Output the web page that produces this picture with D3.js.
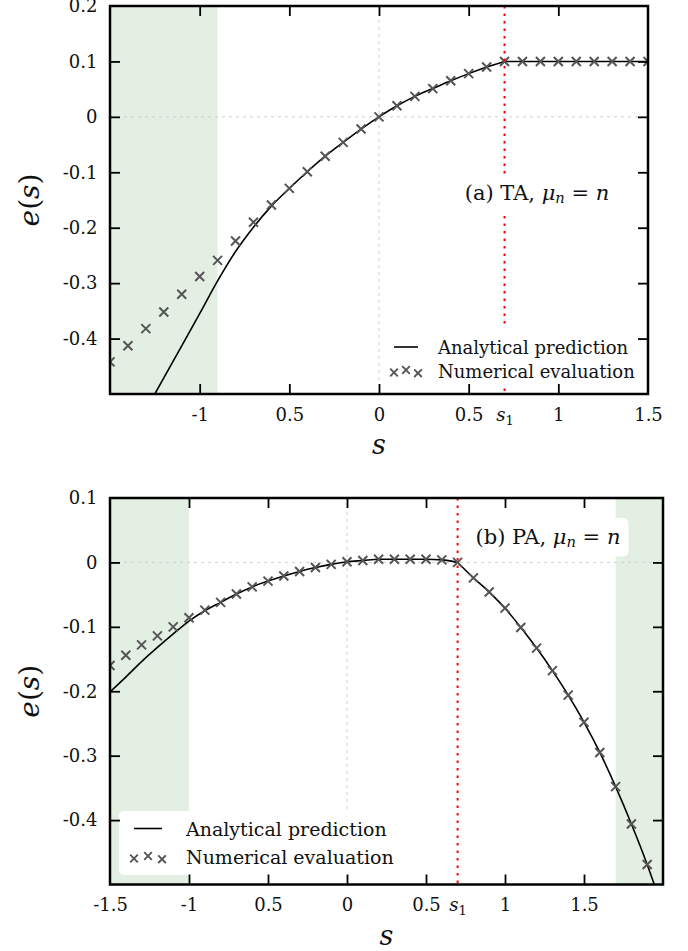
<!DOCTYPE html>
<html><head><meta charset="utf-8">
<script src="https://cdn.jsdelivr.net/npm/d3@7"></script>
<style>
body{margin:0;background:#fff}
svg{display:block}
text{font-family:"DejaVu Serif","Liberation Serif",serif;fill:#111}
</style>
</head><body>
<svg id="chart" width="688" height="951"></svg>
<script>
// ---------- data ----------
const s1 = 0.7;

// (a) TA
const topNumS = [-1.5,-1.4,-1.3,-1.2,-1.1,-1.0,-0.9,-0.8,-0.7,-0.6,-0.5,-0.4,-0.3,-0.2,-0.1,0,0.1,0.2,0.3,0.4,0.5,0.6,0.7,0.8,0.9,1.0,1.1,1.2,1.3,1.4,1.5];
const topNumE = [-0.442,-0.413,-0.382,-0.352,-0.320,-0.288,-0.259,-0.224,-0.190,-0.159,-0.129,-0.099,-0.071,-0.046,-0.022,0.000,0.020,0.037,0.051,0.065,0.078,0.090,0.100,0.100,0.100,0.100,0.100,0.100,0.100,0.100,0.100];
const topAnaS = [-1.25,-1.2,-1.1,-1.0,-0.9,-0.8,-0.7,-0.6,-0.5,-0.4,-0.3,-0.2,-0.1,0,0.1,0.2,0.3,0.4,0.5,0.6,0.7,1.5];
const topAnaE = [-0.500,-0.471,-0.413,-0.355,-0.296,-0.243,-0.199,-0.161,-0.129,-0.099,-0.071,-0.046,-0.022,0.000,0.020,0.037,0.051,0.065,0.078,0.090,0.100,0.100];

// (b) PA
const botNumS = [-1.5,-1.4,-1.3,-1.2,-1.1,-1.0,-0.9,-0.8,-0.7,-0.6,-0.5,-0.4,-0.3,-0.2,-0.1,0,0.1,0.2,0.3,0.4,0.5,0.6,0.7,0.8,0.9,1.0,1.1,1.2,1.3,1.4,1.5,1.6,1.7,1.8,1.9];
const botNumE = [-0.160,-0.144,-0.128,-0.114,-0.100,-0.086,-0.074,-0.062,-0.049,-0.038,-0.029,-0.021,-0.014,-0.008,-0.003,0.001,0.003,0.005,0.005,0.005,0.005,0.004,0.000,-0.024,-0.046,-0.071,-0.101,-0.133,-0.168,-0.206,-0.248,-0.295,-0.348,-0.406,-0.469];
const botAnaS = [-1.5,-1.4,-1.3,-1.2,-1.1,-1.0,-0.9,-0.8,-0.7,-0.6,-0.5,-0.4,-0.3,-0.2,-0.1,0,0.1,0.2,0.3,0.4,0.5,0.6,0.7,0.8,0.9,1.0,1.1,1.2,1.3,1.4,1.5,1.6,1.7,1.8,1.9,1.945];
const botAnaE = [-0.201,-0.178,-0.154,-0.132,-0.111,-0.091,-0.075,-0.062,-0.049,-0.038,-0.029,-0.021,-0.014,-0.008,-0.003,0.001,0.003,0.005,0.005,0.005,0.005,0.004,0.000,-0.024,-0.046,-0.071,-0.101,-0.133,-0.168,-0.206,-0.248,-0.295,-0.348,-0.406,-0.469,-0.500];

// ticks
const topXTicks = [-1,-0.5,0,0.5,0.7,1,1.5];
const topXLabels = ["-1","0.5","0","0.5","s1","1","1.5"];
const botXTicks = [-1.5,-1,-0.5,0,0.5,0.7,1,1.5];
const botXLabels = ["-1.5","-1","0.5","0","0.5","s1","1","1.5"];
const topYTicks = [0.2,0.1,0,-0.1,-0.2,-0.3,-0.4];
const topYLabels = ["0.2","0.1","0","-0.1","-0.2","-0.3","-0.4"];
const botYTicks = [0.1,0,-0.1,-0.2,-0.3,-0.4];
const botYLabels = ["0.1","0","-0.1","-0.2","-0.3","-0.4"];

const topShade = [[-1.5,-0.9]];
const botShade = [[-1.5,-1.0],[1.7,2.0]];
const legendLabels = ["Analytical prediction","Numerical evaluation"];
const panelTags = ["(a) TA, ","(b) PA, "];

// ---------- drawing ----------
const svg = d3.select("#chart");
const FS = 18;   // tick labels
const AFS = 21;  // annotation

function xMark(sel, x, y, h, w){
  sel.append("path")
    .attr("d", `M${x-h},${y-h}L${x+h},${y+h}M${x-h},${y+h}L${x+h},${y-h}`)
    .attr("stroke","#555").attr("stroke-width",w).attr("fill","none");
}

function panel(cfg, idx){
  const g = svg.append("g");
  const x = d3.scaleLinear().domain(cfg.xd).range([cfg.l, cfg.r]);
  const y = d3.scaleLinear().domain(cfg.yd).range([cfg.b, cfg.t]);
  const cid = "clip"+idx;
  g.append("clipPath").attr("id",cid).append("rect")
    .attr("x",cfg.l).attr("y",cfg.t).attr("width",cfg.r-cfg.l).attr("height",cfg.b-cfg.t);
  const inner = g.append("g").attr("clip-path",`url(#${cid})`);

  // shaded regions
  inner.selectAll("rect.shade").data(cfg.shade).join("rect").attr("class","shade")
    .attr("x",d=>x(d[0])).attr("width",d=>x(d[1])-x(d[0]))
    .attr("y",cfg.t).attr("height",cfg.b-cfg.t).attr("fill","#e4efe4");

  // zero lines
  inner.append("line").attr("x1",x(0)).attr("x2",x(0)).attr("y1",cfg.t).attr("y2",cfg.b)
    .attr("stroke","#cfcfcf").attr("stroke-width",1).attr("stroke-dasharray","3,4");
  inner.append("line").attr("x1",cfg.l).attr("x2",cfg.r).attr("y1",y(0)).attr("y2",y(0))
    .attr("stroke","#cfcfcf").attr("stroke-width",1).attr("stroke-dasharray","3,4");

  // analytical line, split at s1
  const pts = cfg.anaS.map((s,i)=>[s,cfg.anaE[i]]);
  const left = pts.filter(p=>p[0]<=s1+1e-9), right = pts.filter(p=>p[0]>=s1-1e-9);
  const line = d3.line().x(d=>x(d[0])).y(d=>y(d[1])).curve(d3.curveMonotoneX);
  [left,right].forEach(seg=>{
    inner.append("path").attr("d",line(seg)).attr("fill","none")
      .attr("stroke","#000").attr("stroke-width",1.6);
  });

  // numerical markers
  const mk = inner.append("g");
  cfg.numS.forEach((s,i)=>xMark(mk, x(s), y(cfg.numE[i]), 4.5, 2));

  // s1 line
  inner.append("line").attr("x1",x(s1)).attr("x2",x(s1)).attr("y1",cfg.t).attr("y2",cfg.b)
    .attr("stroke","#ff0000").attr("stroke-width",2).attr("stroke-dasharray","2.5,5");

  // annotation
  const ag = g.append("g");
  const abox = ag.append("rect").attr("fill","#fff").attr("rx",5);
  const at = ag.append("text").attr("x",cfg.tagX).attr("y",cfg.tagY)
    .attr("font-size",AFS).attr("text-anchor","middle").attr("dominant-baseline","central");
  at.append("tspan").text(panelTags[idx]);
  at.append("tspan").attr("font-style","italic").text("μ");
  at.append("tspan").attr("font-style","italic").attr("font-size",AFS*0.7).attr("dy",4).text("n");
  at.append("tspan").attr("dy",-4).text(" = ");
  at.append("tspan").attr("font-style","italic").text("n");
  const bb = at.node().getBBox();
  abox.attr("x",bb.x-8).attr("y",bb.y-7).attr("width",bb.width+16).attr("height",bb.height+14);

  // legend
  const L = cfg.leg;
  const lg = g.append("g");
  lg.append("rect").attr("x",L.x).attr("y",L.y).attr("width",L.w).attr("height",L.h)
    .attr("rx",5).attr("fill","#fff");
  lg.append("line").attr("x1",L.lx0).attr("x2",L.lx1).attr("y1",L.r1).attr("y2",L.r1)
    .attr("stroke","#000").attr("stroke-width",1.6);
  const mx = [L.lx0, (L.lx0+L.lx1)/2, L.lx1], my = [1.5, -1, 2.2];
  mx.forEach((xx,i)=>xMark(lg, xx, L.r2+my[i], 3.8, 1.9));
  legendLabels.forEach((t,i)=>{
    lg.append("text").attr("x",L.tx).attr("y",i?L.r2:L.r1).attr("dominant-baseline","central")
      .attr("font-size",L.fs).text(t);
  });

  // frame
  g.append("rect").attr("x",cfg.l).attr("y",cfg.t).attr("width",cfg.r-cfg.l).attr("height",cfg.b-cfg.t)
    .attr("fill","none").attr("stroke","#000").attr("stroke-width",2.5);

  // axes
  const styleAxis = a => {
    a.select(".domain").remove();
    a.attr("font-family",null).attr("font-size",FS);
    a.selectAll(".tick line").attr("stroke","#000").attr("stroke-width",1.8);
  };
  const tickLines = cfg.xt.filter(v=>v!==s1 && v>cfg.xd[0] && v<cfg.xd[1]);
  const ax = g.append("g").attr("transform",`translate(0,${cfg.b})`)
    .call(d3.axisBottom(x).tickValues(cfg.xt).tickFormat((d,i)=>cfg.xlab[i])
      .tickSizeInner(-10).tickSizeOuter(0).tickPadding(14));
  styleAxis(ax);
  ax.selectAll(".tick").each(function(d){
    const t = d3.select(this);
    if (d===s1 || d<=cfg.xd[0] || d>=cfg.xd[1]) t.select("line").remove();
    if (d===s1){
      const tx = t.select("text"); tx.text("");
      tx.append("tspan").attr("font-style","italic").text("s");
      tx.append("tspan").attr("font-size",FS*0.72).attr("dy",4).text("1");
    }
  });
  const axT = g.append("g").attr("transform",`translate(0,${cfg.t})`)
    .call(d3.axisTop(x).tickValues(tickLines).tickFormat("").tickSizeInner(-10).tickSizeOuter(0));
  styleAxis(axT);
  const ay = g.append("g").attr("transform",`translate(${cfg.l},0)`)
    .call(d3.axisLeft(y).tickValues(cfg.yt).tickFormat((d,i)=>cfg.ylab[i])
      .tickSizeInner(-10).tickSizeOuter(0).tickPadding(12.5));
  styleAxis(ay);
  ay.selectAll(".tick").filter(d=>d>=cfg.yd[1]||d<=cfg.yd[0]).select("line").remove();
  const ayR = g.append("g").attr("transform",`translate(${cfg.r},0)`)
    .call(d3.axisRight(y).tickValues(cfg.yt.filter(v=>v<cfg.yd[1]&&v>cfg.yd[0])).tickFormat("")
      .tickSizeInner(-10).tickSizeOuter(0));
  styleAxis(ayR);

  // axis titles
  const yt = g.append("text").attr("transform",`translate(${cfg.ylx},${(cfg.t+cfg.b)/2}) rotate(-90)`)
    .attr("text-anchor","middle").attr("dominant-baseline","central").attr("font-size",28);
  yt.append("tspan").attr("font-style","italic").text("e");
  yt.append("tspan").text("(");
  yt.append("tspan").attr("font-style","italic").text("s");
  yt.append("tspan").text(")");
  g.append("text").attr("x",(cfg.l+cfg.r)/2).attr("y",cfg.xly).attr("text-anchor","middle")
    .attr("font-size",27).attr("font-style","italic").text("s");
}

panel({
  l:110, r:648, t:6, b:394, xd:[-1.5,1.5], yd:[-0.5,0.2],
  numS:topNumS, numE:topNumE, anaS:topAnaS, anaE:topAnaE, shade:topShade,
  xt:topXTicks, xlab:topXLabels, yt:topYTicks, ylab:topYLabels,
  tagX:537, tagY:193,
  leg:{x:384,y:326,w:258,h:60,lx0:394,lx1:418,tx:438,r1:347,r2:371,fs:18},
  ylx:29, xly:454
},0);

panel({
  l:110, r:663, t:498, b:884.5, xd:[-1.5,2.0], yd:[-0.5,0.1],
  numS:botNumS, numE:botNumE, anaS:botAnaS, anaE:botAnaE, shade:botShade,
  xt:botXTicks, xlab:botXLabels, yt:botYTicks, ylab:botYLabels,
  tagX:548, tagY:537,
  leg:{x:119,y:811,w:288,h:64,lx0:134,lx1:162,tx:186,r1:828.5,r2:857,fs:19},
  ylx:29, xly:945
},1);
</script>
</body></html>
